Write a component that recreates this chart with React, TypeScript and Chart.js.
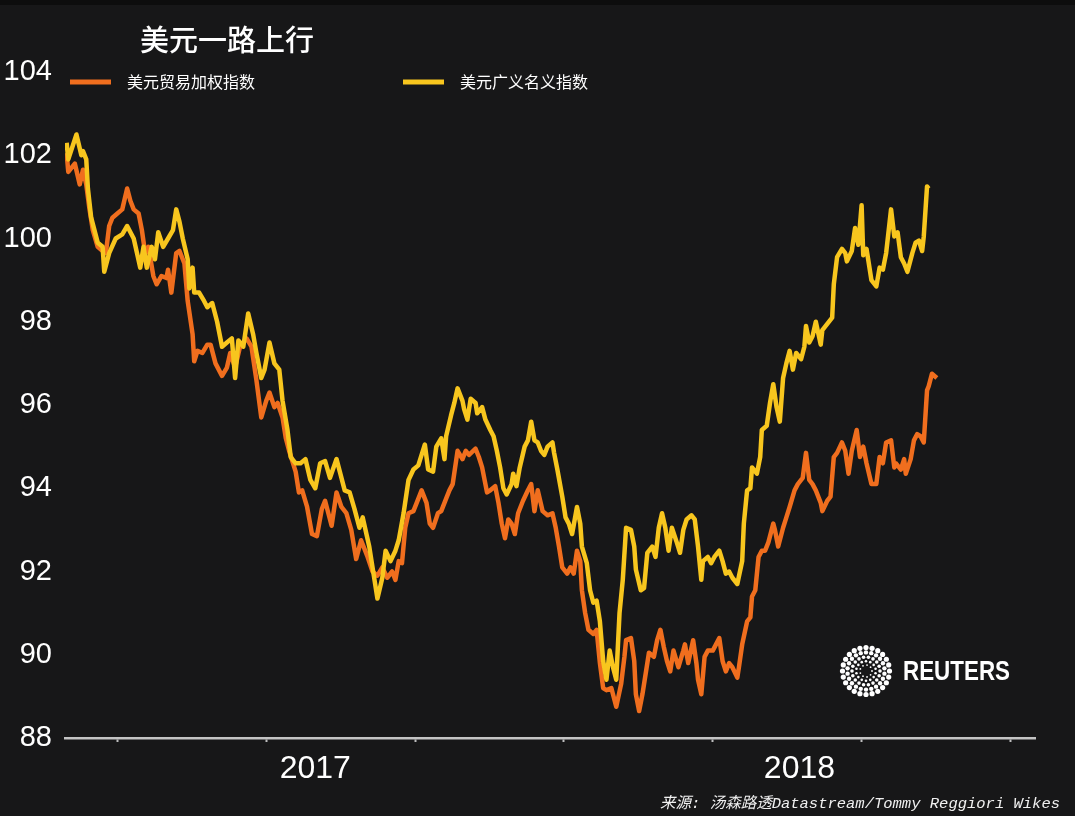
import React, { useEffect, useRef } from 'react';
import { Chart, registerables } from 'chart.js';

Chart.register(...registerables);

// ---------- text ----------
const TITLE = '美元一路上行';
const SOURCE = '来源: 汤森路透Datastream/Tommy Reggiori Wikes';
const SERIES_LABELS = ['美元贸易加权指数', '美元广义名义指数'];
const SERIES_COLORS = ['#F06E1E', '#F8C61E'];

// ---------- axes ----------
// x values are days counted from 2016-12-01
const X_MIN = 0;
const X_MAX = 593;
const QUARTER_TICK_DAYS = [32, 123, 214, 305, 396, 487, 578];
const YEAR_LABELS = ['2017', '2018'];
const YEAR_LABEL_DAYS = [153, 449];
const Y_TICKS = [88, 90, 92, 94, 96, 98, 100, 102, 104];

// ---------- series: [day, index value] ----------
const tradeWeighted: [number, number][] = [
  [1, 102.05], [2, 101.6], [6, 101.8], [9, 101.3], [11, 101.65], [13, 101.3], [15, 100.7], [17, 100.2], [20, 99.8], [23, 99.7],
  [25, 99.65], [27, 100.3], [29, 100.5], [32, 100.6], [35, 100.7], [38, 101.2], [40, 100.9], [42, 100.7], [45, 100.6], [47, 100.2],
  [49, 99.65], [51, 99.8], [54, 99.1], [56, 98.9], [59, 99.1], [62, 99.05], [63, 99.25], [65, 98.7], [68, 99.65], [70, 99.7],
  [73, 99.4], [75, 98.5], [78, 97.7], [79, 97.05], [81, 97.3], [84, 97.25], [87, 97.45], [89, 97.45], [92, 97.0], [96, 96.7],
  [99, 96.9], [101, 97.25], [104, 96.9], [107, 97.4], [111, 97.6], [114, 97.4], [117, 96.6], [120, 95.7], [123, 96.1], [125, 96.3],
  [128, 95.95], [130, 96.05], [133, 95.7], [135, 95.2], [137, 94.9], [141, 94.4], [143, 93.9], [145, 93.95], [148, 93.55], [151, 92.9],
  [154, 92.85], [157, 93.5], [159, 93.7], [163, 93.1], [166, 93.9], [169, 93.55], [172, 93.4], [175, 93.0], [178, 92.3], [181, 92.75],
  [185, 92.35], [188, 92.0], [191, 91.9], [194, 92.1], [197, 91.85], [200, 92.0], [202, 91.8], [204, 92.25], [206, 92.2], [208, 93.05],
  [210, 93.4], [213, 93.45], [215, 93.65], [218, 93.95], [221, 93.65], [223, 93.15], [225, 93.05], [228, 93.4], [230, 93.45], [233, 93.75],
  [235, 93.95], [237, 94.1], [240, 94.9], [243, 94.7], [245, 94.9], [247, 94.8], [251, 94.95], [253, 94.75], [255, 94.5], [258, 93.9],
  [260, 93.95], [263, 94.05], [265, 93.65], [267, 93.15], [269, 92.8], [271, 93.25], [273, 93.15], [275, 92.9], [277, 93.4], [280, 93.7],
  [283, 93.95], [285, 94.1], [287, 93.45], [289, 93.95], [292, 93.45], [295, 93.35], [298, 93.4], [300, 93.05], [302, 92.6], [304, 92.1],
  [307, 91.95], [309, 92.1], [311, 91.95], [313, 92.5], [315, 92.25], [316, 91.55], [318, 91.0], [320, 90.6], [323, 90.5], [325, 90.6],
  [327, 89.8], [329, 89.2], [331, 89.15], [334, 89.2], [335, 89.05], [337, 88.75], [340, 89.3], [342, 89.95], [343, 90.35], [346, 90.4],
  [348, 89.85], [349, 89.05], [351, 88.65], [353, 89.05], [356, 89.8], [357, 90.05], [360, 89.95], [362, 90.35], [364, 90.6], [366, 90.2],
  [368, 89.85], [370, 89.6], [372, 90.1], [375, 89.7], [378, 90.1], [379, 90.25], [381, 89.8], [384, 90.35], [386, 89.8], [387, 89.4],
  [389, 89.05], [391, 89.95], [393, 90.1], [396, 90.1], [398, 90.25], [400, 90.4], [402, 89.85], [404, 89.6], [406, 89.8], [408, 89.7],
  [411, 89.45], [412, 89.7], [414, 90.25], [417, 90.8], [419, 90.9], [420, 91.4], [422, 91.55], [424, 92.35], [426, 92.5], [428, 92.5],
  [430, 92.7], [433, 93.15], [434, 93.0], [436, 92.6], [439, 93.05], [441, 93.3], [443, 93.55], [446, 93.95], [448, 94.1], [451, 94.25],
  [453, 94.85], [455, 94.2], [457, 94.1], [459, 93.95], [462, 93.65], [463, 93.45], [466, 93.7], [468, 93.8], [470, 94.75], [472, 94.85],
  [475, 95.1], [477, 94.9], [479, 94.35], [481, 94.9], [484, 95.4], [486, 94.75], [488, 95.0], [490, 94.6], [493, 94.1], [496, 94.1],
  [498, 94.75], [500, 94.6], [502, 95.1], [505, 95.15], [507, 94.5], [508, 94.6], [511, 94.45], [513, 94.7], [514, 94.35], [517, 94.7],
  [519, 95.15], [521, 95.3], [523, 95.25], [525, 95.1], [527, 96.35], [528, 96.45], [530, 96.75], [533, 96.65],
];

const broadNominal: [number, number][] = [
  [1, 102.3], [2, 101.9], [7, 102.5], [10, 102.0], [11, 102.1], [13, 101.9], [14, 101.2], [16, 100.5], [18, 100.2], [20, 99.9],
  [23, 99.8], [24, 99.2], [27, 99.65], [31, 100.0], [35, 100.1], [38, 100.3], [42, 100.0], [44, 99.65], [46, 99.3], [48, 99.8],
  [50, 99.3], [53, 99.8], [55, 99.5], [57, 100.15], [60, 99.8], [63, 100.0], [66, 100.2], [68, 100.7], [70, 100.4], [72, 100.0],
  [75, 99.5], [76, 98.8], [78, 99.3], [79, 98.7], [82, 98.7], [85, 98.5], [87, 98.35], [90, 98.45], [93, 98.0], [96, 97.4],
  [99, 97.5], [102, 97.6], [104, 96.65], [106, 97.55], [109, 97.4], [112, 98.2], [115, 97.7], [117, 97.25], [120, 96.65], [122, 96.85],
  [125, 97.5], [128, 97.0], [131, 96.85], [133, 96.1], [136, 95.4], [138, 94.75], [141, 94.6], [144, 94.6], [147, 94.7], [150, 94.2],
  [153, 94.0], [156, 94.6], [159, 94.65], [162, 94.25], [166, 94.7], [169, 94.25], [171, 93.95], [174, 93.9], [177, 93.5], [180, 93.05],
  [182, 93.3], [186, 92.6], [189, 91.85], [191, 91.35], [194, 91.85], [196, 92.5], [199, 92.25], [202, 92.5], [204, 92.75], [207, 93.4],
  [210, 94.2], [213, 94.45], [216, 94.55], [218, 94.8], [220, 95.05], [222, 94.45], [225, 94.4], [227, 95.0], [230, 95.2], [232, 94.7],
  [233, 95.25], [236, 95.75], [238, 96.05], [240, 96.4], [243, 96.1], [244, 95.9], [246, 95.65], [248, 96.15], [251, 96.05], [252, 95.8],
  [255, 95.95], [257, 95.65], [260, 95.4], [262, 95.25], [264, 94.9], [266, 94.5], [268, 94.0], [270, 93.85], [273, 94.1], [274, 94.35],
  [276, 94.05], [278, 94.5], [281, 95.0], [283, 95.15], [285, 95.6], [287, 95.15], [289, 95.1], [291, 94.9], [293, 94.8], [295, 95.0],
  [298, 95.1], [299, 94.85], [301, 94.45], [304, 93.8], [306, 93.3], [308, 93.15], [310, 92.9], [313, 93.55], [315, 93.15], [316, 92.6],
  [319, 92.2], [321, 91.55], [323, 91.25], [325, 91.3], [327, 90.8], [329, 89.85], [331, 89.4], [333, 90.1], [335, 89.7], [337, 89.4],
  [339, 91.0], [341, 91.8], [343, 93.05], [346, 93.0], [348, 92.6], [349, 92.05], [352, 91.55], [354, 91.6], [356, 92.45], [359, 92.6],
  [361, 92.35], [363, 93.05], [365, 93.4], [367, 93.05], [369, 92.5], [371, 93.05], [374, 92.7], [376, 92.45], [378, 93.0], [380, 93.25],
  [383, 93.35], [385, 93.25], [387, 92.6], [389, 91.8], [390, 92.25], [393, 92.35], [395, 92.2], [397, 92.35], [400, 92.5], [402, 92.25],
  [404, 91.95], [406, 92.0], [408, 91.85], [411, 91.7], [414, 92.25], [415, 93.15], [417, 93.95], [419, 94.0], [420, 94.5], [423, 94.35],
  [425, 94.75], [426, 95.4], [429, 95.5], [431, 96.05], [433, 96.5], [435, 95.95], [437, 95.6], [439, 96.65], [441, 97.0], [443, 97.3],
  [445, 96.85], [447, 97.25], [450, 97.1], [452, 97.4], [453, 97.9], [455, 97.5], [457, 97.65], [459, 98.0], [462, 97.45], [463, 97.8],
  [466, 97.95], [469, 98.1], [470, 98.9], [472, 99.55], [475, 99.75], [477, 99.65], [478, 99.45], [481, 99.7], [483, 100.25], [485, 99.85],
  [487, 100.8], [488, 99.6], [490, 99.75], [493, 99.0], [496, 98.85], [498, 99.3], [500, 99.25], [502, 99.65], [505, 100.7], [507, 100.05],
  [509, 100.15], [511, 99.55], [513, 99.4], [515, 99.2], [518, 99.65], [520, 99.9], [522, 99.95], [524, 99.7], [525, 100.05], [527, 101.25],
  [528, 101.2],
];

// ---------- style ----------
const BG = '#171718';
const SANS = "'Liberation Sans', Arial, sans-serif";
const CJK = "'Noto Sans CJK SC', 'Noto Sans', sans-serif";

const overlayPlugin = {
  id: 'overlay',
  beforeDraw(chart: any) {
    const { ctx, width, height } = chart;
    ctx.save();
    ctx.fillStyle = BG;
    ctx.fillRect(0, 0, width, height);
    ctx.fillStyle = '#0d0d0d';
    ctx.fillRect(0, 0, width, 5);
    ctx.restore();
  },
  afterDraw(chart: any) {
    const ctx = chart.ctx;
    ctx.save();
    // title
    ctx.fillStyle = '#ffffff';
    ctx.textAlign = 'left';
    ctx.textBaseline = 'middle';
    ctx.font = `500 29px ${CJK}`;
    ctx.fillText(TITLE, 140, 40);

    // legend
    const legendX = [70, 403];
    chart.data.datasets.forEach((ds: any, i: number) => {
      const x0 = legendX[i];
      ctx.strokeStyle = ds.borderColor;
      ctx.lineWidth = 5;
      ctx.lineCap = 'butt';
      ctx.beginPath();
      ctx.moveTo(x0, 82);
      ctx.lineTo(x0 + 41, 82);
      ctx.stroke();
      ctx.fillStyle = '#ffffff';
      ctx.font = `16px ${CJK}`;
      ctx.fillText(ds.label, x0 + 57, 82);
    });

    // source
    ctx.font = `italic 15.5px 'Liberation Mono', ${CJK}`;
    ctx.textAlign = 'right';
    ctx.textBaseline = 'alphabetic';
    ctx.fillStyle = '#f0f0f0';
    ctx.fillText(SOURCE, 1060, 808);

    // Reuters logo
    const cx = 866;
    const cy = 671;
    const rings = [
      { r: 23.5, n: 24, d: 2.6 },
      { r: 18.6, n: 22, d: 2.2 },
      { r: 14.0, n: 18, d: 1.8 },
      { r: 9.8, n: 14, d: 1.3 },
      { r: 6.0, n: 9, d: 0.9 },
    ];
    ctx.fillStyle = '#ffffff';
    rings.forEach((ring, k) => {
      for (let j = 0; j < ring.n; j++) {
        const a = ((j + (k % 2) * 0.5) / ring.n) * Math.PI * 2;
        ctx.beginPath();
        ctx.arc(cx + ring.r * Math.cos(a), cy + ring.r * Math.sin(a), ring.d, 0, Math.PI * 2);
        ctx.fill();
      }
    });
    ctx.translate(903, 672);
    ctx.scale(0.8, 1);
    ctx.font = `bold 28px ${SANS}`;
    ctx.textAlign = 'left';
    ctx.textBaseline = 'middle';
    ctx.fillText('REUTERS', 0, 0);
    ctx.restore();
  },
};

export default function App() {
  const canvasRef = useRef<HTMLCanvasElement | null>(null);

  useEffect(() => {
    document.body.style.margin = '0';
    document.body.style.background = BG;
    const canvas = canvasRef.current;
    if (!canvas) return;

    const toPoints = (s: [number, number][]) => s.map(([x, y]) => ({ x, y }));

    const chart = new Chart(canvas, {
      type: 'line',
      data: {
        datasets: [
          {
            label: SERIES_LABELS[0],
            data: toPoints(tradeWeighted),
            borderColor: SERIES_COLORS[0],
            backgroundColor: SERIES_COLORS[0],
            borderWidth: 4.5,
            pointRadius: 0,
            tension: 0,
            borderJoinStyle: 'round',
            order: 1,
          },
          {
            label: SERIES_LABELS[1],
            data: toPoints(broadNominal),
            borderColor: SERIES_COLORS[1],
            backgroundColor: SERIES_COLORS[1],
            borderWidth: 4.5,
            pointRadius: 0,
            tension: 0,
            borderJoinStyle: 'round',
            order: 0,
          },
        ],
      },
      options: {
        animation: false,
        responsive: false,
        maintainAspectRatio: false,
        layout: { padding: { left: 0, right: 40, top: 72, bottom: 0 } },
        plugins: {
          legend: { display: false },
          title: { display: false },
          tooltip: { enabled: false },
        },
        scales: {
          x: {
            type: 'linear',
            min: X_MIN,
            max: X_MAX,
            afterBuildTicks: (scale: any) => {
              scale.ticks = [...QUARTER_TICK_DAYS, ...YEAR_LABEL_DAYS]
                .sort((a, b) => a - b)
                .map((v) => ({ value: v }));
            },
            afterFit: (scale: any) => {
              scale.height = 78;
            },
            ticks: {
              autoSkip: false,
              maxRotation: 0,
              color: '#ffffff',
              padding: 8,
              font: { family: SANS, size: 32 },
              callback: (value: any) => {
                const i = YEAR_LABEL_DAYS.indexOf(Number(value));
                return i >= 0 ? YEAR_LABELS[i] : '';
              },
            },
            grid: {
              display: true,
              drawOnChartArea: false,
              drawTicks: true,
              tickLength: 4,
              tickWidth: 2,
              tickColor: (c: any) =>
                c.tick && YEAR_LABEL_DAYS.includes(c.tick.value) ? 'rgba(0,0,0,0)' : '#bdbdbd',
            },
            border: { display: true, color: '#c4c4c4', width: 2.5 },
          },
          y: {
            type: 'linear',
            min: Y_TICKS[0],
            max: Y_TICKS[Y_TICKS.length - 1],
            afterBuildTicks: (scale: any) => {
              scale.ticks = Y_TICKS.map((v) => ({ value: v }));
            },
            afterFit: (scale: any) => {
              scale.width = 65;
            },
            ticks: {
              color: '#ffffff',
              padding: 13,
              font: { family: SANS, size: 29 },
            },
            grid: { display: false, drawTicks: false },
            border: { display: false },
          },
        },
      },
      plugins: [overlayPlugin],
    } as any);

    return () => chart.destroy();
  }, []);

  return (
    <div style={{ width: 1075, height: 816, background: BG }}>
      <canvas ref={canvasRef} width={1075} height={816} style={{ display: 'block' }} />
    </div>
  );
}
